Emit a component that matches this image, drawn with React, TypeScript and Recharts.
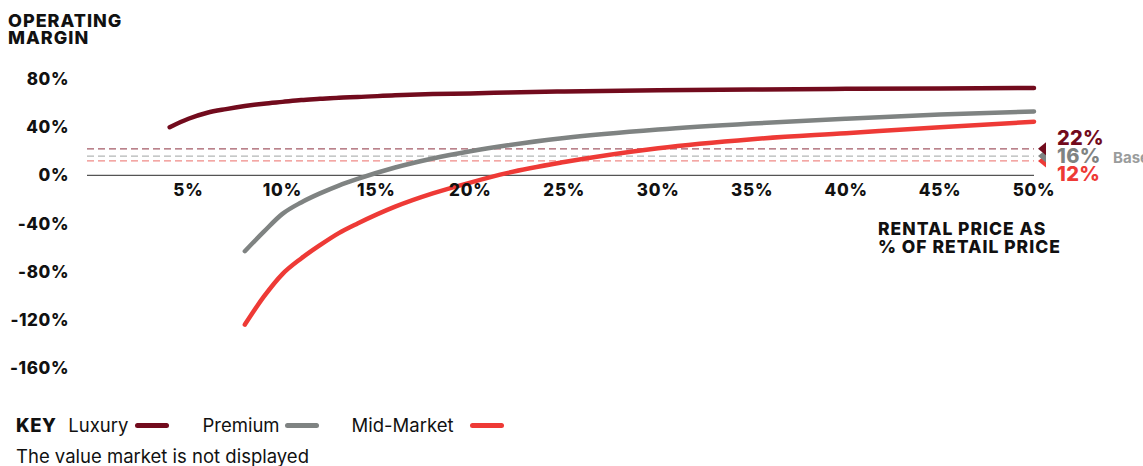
import React from "react";
import { LineChart, Line, XAxis, YAxis, ReferenceLine, ReferenceDot } from "recharts";

document.body.style.margin = "0";

// rental price as % of retail price
const rentalPct = [4, 5, 6, 7, 8, 9, 10, 11, 12, 13, 14, 16, 18, 20, 22, 25, 30, 35, 40, 45, 50];
const luxury = [40, 47, 52, 55, 57.5, 59.5, 61, 62.5, 63.5, 64.5, 65, 66.5, 67.5, 68, 68.8, 69.7, 70.6, 71.3, 71.8, 72.2, 72.5];
const premium = [null, null, null, null, -63, -47, -32, -22.5, -15, -8.5, -3, 6.5, 14, 20, 25, 31, 38, 43, 47, 50.5, 53];
const midMarket = [null, null, null, null, -124, -101, -82, -69, -58, -48, -40, -26, -15, -6, 2, 11, 22.5, 30, 35, 40, 44.5];

const yTicks = [-160, -120, -80, -40, 0, 40, 80];
const xTicks = [5, 10, 15, 20, 25, 30, 35, 40, 45, 50];

const LUX = "#720b1d";
const PREM = "#7f8382";
const MID = "#ee3a36";

const series = [
  { key: "luxury", name: "Luxury", color: LUX, gap: 7 },
  { key: "premium", name: "Premium", color: PREM, gap: 5 },
  { key: "mid", name: "Mid-Market", color: MID, gap: 16 },
];

// break-even benchmarks (drawn bottom first)
const benchmarks = [
  { value: 12, color: MID, dash: "#f08a87", dy: 20.5, note: "" },
  { value: 16, color: PREM, dash: "#b3b6b5", dy: 6.5, note: "Base case" },
  { value: 22, color: LUX, dash: "#a45a66", dy: -4, note: "" },
];

const data = rentalPct.map((x, i) => ({
  x,
  luxury: luxury[i],
  premium: premium[i],
  mid: midMarket[i],
}));

const FONT = "Inter, 'Noto Sans', sans-serif";

const benchLabel = (b: any) => (props: any) => {
  const vb = props.viewBox;
  const right = vb.x + vb.width;
  const y = vb.y;
  return (
    <g>
      <polygon points={`${right + 4},${y} ${right + 12},${y - 6.5} ${right + 12},${y + 6.5}`} fill={b.color} />
      <text x={right + 23} y={y + b.dy} fill={b.color} fontSize={20} fontWeight={800} fontFamily={FONT} letterSpacing={0.3}>
        {b.value}%
      </text>
      {b.note && (
        <text x={right + 79} y={y + b.dy} fill="#9a9c9c" fontSize={15} fontWeight={700} fontFamily={FONT}>
          {b.note}
        </text>
      )}
    </g>
  );
};

export default function App() {
  return (
    <div style={{ position: "relative", width: 1143, height: 466, fontFamily: FONT, color: "#111" }}>
      <div style={{ position: "absolute", left: 8, top: 12, fontSize: 18, lineHeight: "17px", fontWeight: 800, letterSpacing: 1 }}>
        OPERATING
        <br />
        MARGIN
      </div>
      <LineChart width={1143} height={466} data={data} margin={{ top: 79, right: 109, left: 27, bottom: 98 }}>
        <XAxis dataKey="x" type="number" domain={[-0.4, 50]} hide />
        <YAxis
          type="number"
          domain={[-160, 80]}
          ticks={yTicks}
          width={60}
          axisLine={false}
          tickLine={false}
          tickMargin={12}
          tickFormatter={(v) => `${v}%`}
          tick={{ fontSize: 17, fontWeight: 800, fill: "#111", fontFamily: FONT, letterSpacing: 0.6 }}
        />
        {benchmarks.map((b) => (
          <ReferenceLine
            key={b.value}
            y={b.value}
            stroke={b.dash}
            strokeWidth={1.2}
            strokeDasharray="7 4"
            label={benchLabel(b)}
          />
        ))}
        <ReferenceLine y={0} stroke="#555" strokeWidth={1.2} />
        {xTicks.map((t) => (
          <ReferenceDot
            key={t}
            x={t}
            y={0}
            r={0}
            fill="none"
            stroke="none"
            label={{ value: `${t}%`, position: "bottom", offset: 9, fill: "#111", fontSize: 17, fontWeight: 800, fontFamily: FONT, letterSpacing: 0.8 }}
          />
        ))}
        {series.map((s) => (
          <Line
            key={s.key}
            type="monotone"
            dataKey={s.key}
            name={s.name}
            stroke={s.color}
            strokeWidth={4.5}
            strokeLinecap="round"
            dot={false}
            activeDot={false}
            isAnimationActive={false}
          />
        ))}
      </LineChart>
      <div style={{ position: "absolute", left: 878, top: 220, fontSize: 17.5, lineHeight: "18px", fontWeight: 800, letterSpacing: 1 }}>
        RENTAL PRICE AS
        <br />% OF RETAIL PRICE
      </div>
      <div style={{ position: "absolute", left: 16, top: 416, fontSize: 18.5, lineHeight: "18px", display: "flex", alignItems: "center" }}>
        <span style={{ fontWeight: 800, marginRight: 12, letterSpacing: 0.5 }}>KEY</span>
        {series.map((s) => (
          <span key={s.key} style={{ display: "inline-flex", alignItems: "center", marginRight: 33 }}>
            {s.name}
            <span style={{ display: "inline-block", width: 34, height: 5, borderRadius: 3, background: s.color, marginLeft: s.gap }} />
          </span>
        ))}
      </div>
      <div style={{ position: "absolute", left: 16, top: 447, fontSize: 18.5, lineHeight: "18px" }}>
        The value market is not displayed
      </div>
    </div>
  );
}
